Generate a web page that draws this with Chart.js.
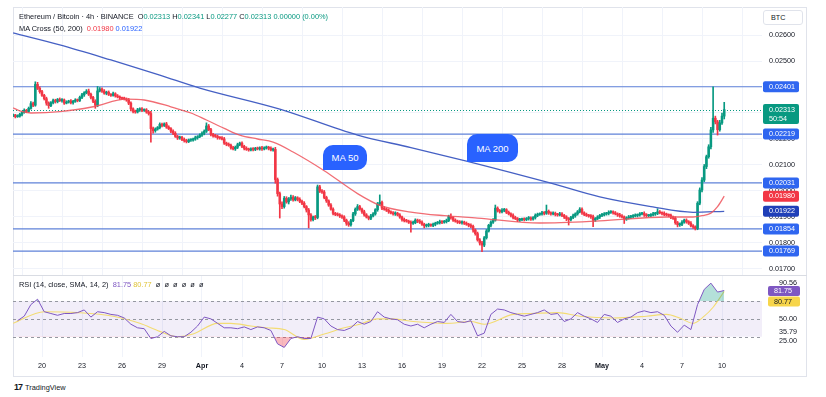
<!DOCTYPE html>
<html>
<head>
<meta charset="utf-8">
<script src="https://cdn.jsdelivr.net/npm/chart.js@4.4.1/dist/chart.umd.min.js"></script>
<style>
  body { margin: 0; background: #fff; font-family: "Liberation Sans", Arial, sans-serif; }
  #wrap { position: relative; width: 826px; height: 397px; overflow: hidden; background: #fff; }
  #frame { position: absolute; left: 13px; top: 7px; width: 794px; height: 370px; border: 1px solid #e0e3eb; box-sizing: border-box; }
  #main { position: absolute; left: 0; top: 7px; }
  #rsi { position: absolute; left: 0; top: 276px; }
  #sep { position: absolute; left: 13px; top: 275px; width: 794px; height: 1px; background: #d9dce3; }
  .hdr { position: absolute; left: 19px; font-size: 7.4px; line-height: 10px; color: #131722; white-space: nowrap; }
  .g { color: #089981; } .r { color: #f23645; } .b { color: #2962ff; }
  .p { color: #7e57c2; } .y { color: #e0c43a; } .n { color: #787b86; }
  .bub { position: absolute; background: #2962ff; color: #fff; font-size: 9.5px; display: flex; align-items: center; justify-content: center; border-radius: 10px 10px 10px 0; }
  #btc { position: absolute; left: 763px; top: 10px; width: 40px; height: 15px; border: 1px solid #e0e3eb; border-radius: 3px; box-sizing: border-box; font-size: 7.2px; line-height: 13px; padding-left: 7px; color: #131722; background: #fff; }
  #logo { position: absolute; left: 14px; top: 382px; font-size: 7.4px; color: #131722; white-space: nowrap; }
  #logo b { font-size: 9px; letter-spacing: -1px; margin-right: 3px; }
</style>
</head>
<body>
<div id="wrap">
  <div id="frame"></div>
  <canvas id="main" width="806" height="268"></canvas>
  <canvas id="rsi" width="806" height="100"></canvas>
  <div id="sep"></div>
  <div class="hdr" style="top:12px">Ethereum / Bitcoin · 4h · BINANCE&nbsp; O<span class="g">0.02313</span> H<span class="g">0.02341</span> L<span class="g">0.02277</span> C<span class="g">0.02313</span> <span class="g">0.00000 (0.00%)</span></div>
  <div class="hdr" style="top:24px">MA Cross (50, 200)&nbsp; <span class="r" id="ma50txt"></span> <span class="b" id="ma200txt"></span></div>
  <div class="hdr" style="top:280px">RSI (14, close, SMA, 14, 2)&nbsp; <span class="p" id="rsitxt"></span> <span class="y" id="rsimatxt"></span>&nbsp; ø&nbsp; ø&nbsp; ø&nbsp; ø&nbsp; ø&nbsp; ø</div>
  <div class="bub" style="left:323px;top:145px;width:44px;height:25px">MA 50</div>
  <div class="bub" style="left:467px;top:134px;width:51px;height:28px">MA 200</div>
  <div id="btc">BTC</div>
  <div id="logo"><b>17</b>TradingView</div>
</div>
<script>
// Preise in 1e-5 BTC, 4h-Kerzen ab 17. März 20:00
const firstOpen = 2290;
const closes = [
  2292, 2286, 2288, 2295, 2302, 2310, 2306, 2318, 2336, 2330,
  2410, 2395, 2382, 2368, 2355, 2338, 2328, 2340, 2348, 2344,
  2352, 2348, 2350, 2338, 2342, 2346, 2340, 2345, 2350, 2348,
  2360, 2370, 2378, 2384, 2372, 2360, 2345, 2330, 2385, 2392,
  2384, 2376, 2380, 2372, 2368, 2374, 2366, 2362, 2358, 2356,
  2354, 2350, 2338, 2316, 2306, 2304, 2312, 2316, 2310, 2312,
  2304, 2298, 2240, 2232, 2238, 2244, 2256, 2252, 2258, 2246,
  2240, 2230, 2222, 2210, 2204, 2206, 2198, 2194, 2190, 2196,
  2196, 2200, 2205, 2209, 2215, 2222, 2230, 2250, 2236, 2218,
  2212, 2210, 2205, 2204, 2200, 2184, 2180, 2176, 2166, 2162,
  2168, 2178, 2184, 2172, 2164, 2160, 2158, 2162, 2160, 2164,
  2162, 2166, 2162, 2166, 2168, 2164, 2158, 2160, 2044, 1990,
  1950, 1940, 1972, 1958, 1970, 1976, 1966, 1974, 1968, 1960,
  1953, 1940, 1927, 1908, 1890, 1900, 1898, 2016, 2000, 1996,
  1975, 1962, 1946, 1930, 1914, 1910, 1908, 1904, 1900, 1888,
  1876, 1870, 1886, 1912, 1930, 1940, 1930, 1920, 1908, 1900,
  1895, 1904, 1912, 1928, 1950, 1956, 1934, 1930, 1926, 1920,
  1916, 1912, 1914, 1908, 1900, 1890, 1886, 1884, 1880, 1876,
  1878, 1888, 1884, 1880, 1872, 1866, 1868, 1870, 1868, 1872,
  1876, 1878, 1882, 1880, 1882, 1886, 1902, 1898, 1888, 1884,
  1880, 1878, 1880, 1876, 1872, 1868, 1864, 1850, 1836, 1812,
  1800, 1792, 1820, 1846, 1868, 1880, 1888, 1934, 1925, 1920,
  1926, 1928, 1918, 1912, 1906, 1898, 1894, 1888, 1890, 1892,
  1890, 1894, 1896, 1892, 1898, 1906, 1910, 1912, 1916, 1914,
  1922, 1916, 1912, 1914, 1910, 1908, 1912, 1906, 1900, 1894,
  1890, 1898, 1905, 1912, 1920, 1930, 1916, 1910, 1906, 1904,
  1901, 1888, 1894, 1900, 1906, 1908, 1912, 1914, 1918, 1920,
  1916, 1912, 1908, 1904, 1900, 1892, 1896, 1900, 1902, 1904,
  1906, 1908, 1912, 1914, 1908, 1905, 1906, 1908, 1912, 1914,
  1920, 1916, 1914, 1910, 1908, 1906, 1900, 1895, 1878, 1870,
  1872, 1880, 1888, 1882, 1876, 1866, 1862, 1856, 1953, 2004,
  2042, 2094, 2132, 2170, 2235, 2280, 2266, 2236, 2262, 2288, 2313
];
// Dochte über / unter dem Kerzenkörper
const wickUp = [
  4,3,5,4,3,6,4,5,8,6, 10,8,6,5,4,6,5,4,6,5, 4,6,5,4,5,3,6,4,5,4, 5,6,4,6,8,5,4,6,17,6,
  5,6,4,5,3,6,4,5,4,3, 5,4,6,5,4,5,6,4,5,4, 5,4,8,6,5,4,6,5,4,6, 5,4,5,6,4,5,4,6,5,4,
  5,4,6,4,5,6,5,12,6,5, 4,6,5,4,5,6,4,5,4,6, 5,6,4,5,4,6,5,4,5,4, 5,4,6,4,5,4,6,5,8,6,
  6,8,7,6,5,8,6,5,4,6, 5,6,4,6,5,4,6,7,6,5, 6,5,4,6,5,4,6,5,4,5, 4,6,5,6,5,8,5,4,6,5,
  4,6,5,4,6,29,5,6,4,5, 4,5,6,4,5,4,6,5,4,5, 6,5,4,6,5,4,5,6,4,5, 4,5,6,4,5,6,5,10,4,5,
  4,6,5,4,5,4,6,5,4,6, 5,6,5,6,4,5,6,12,5,4, 6,5,4,5,4,6,5,4,5,4, 5,4,6,5,4,6,5,4,6,5,
  24,5,4,6,5,4,6,5,4,5, 4,5,6,4,5,6,5,4,5,4, 5,6,4,5,4,6,5,4,6,5, 4,5,4,6,5,4,5,6,4,5,
  6,4,5,4,6,5,4,5,6,4, 12,5,4,6,5,4,5,4,6,5, 5,6,4,5,4,6,5,4,6,8, 10,8,6,8,10,121,8,6,10,12,28
];
const wickDown = [
  4,5,3,4,6,3,5,4,3,6, 4,5,6,4,5,8,10,4,5,6, 5,4,6,5,3,4,5,6,4,5, 4,5,6,4,5,6,5,12,6,4,
  5,4,6,5,4,3,5,4,6,5, 4,5,6,8,6,5,4,6,5,4, 5,6,52,10,6,4,5,6,4,5, 4,6,5,4,6,5,4,6,5,4,
  5,4,5,6,4,5,6,5,4,6, 5,4,6,5,4,5,6,4,5,4, 6,5,4,5,6,4,5,4,6,5, 4,5,6,4,5,6,4,5,14,10,
  54,8,6,5,8,6,5,4,6,5, 6,5,8,50,6,5,8,5,6,5, 5,6,5,4,6,5,4,6,5,6, 8,6,5,4,6,5,4,6,5,4,
  6,5,4,5,6,5,6,4,5,6, 4,5,6,4,5,6,5,4,5,34, 5,4,6,5,4,8,5,6,4,5, 6,4,5,6,4,5,4,6,5,4,
  5,4,6,5,4,6,5,8,6,5, 8,25,6,5,4,6,5,4,6,5, 4,6,5,4,6,5,4,6,5,4, 5,4,6,5,4,6,5,4,5,6,
  4,6,5,4,6,5,4,5,6,8, 21,5,4,6,5,4,6,5,4,5, 6,25,5,4,6,5,4,5,6,4, 5,4,6,5,4,17,5,4,6,5,
  4,6,5,4,6,5,4,5,4,6, 5,4,6,5,4,5,6,4,6,8, 6,5,4,6,5,4,6,6,5,6, 8,6,8,6,8,10,8,21,6,6,11
];

// Gleitende Durchschnitte (Kerzenindex, Wert)
const ma50At = [0, 3, 8, 21, 36, 51, 59, 71, 80, 87, 95, 102, 110, 117, 126, 140, 155, 165, 179, 194, 209, 237, 264, 294, 306, 310, 314, 317, 320];
const ma50 = [2320, 2308, 2300, 2305, 2324, 2353, 2350, 2324, 2300, 2273, 2241, 2215, 2200, 2188, 2150, 2078, 1990, 1945, 1919, 1905, 1896, 1877, 1885, 1900, 1900, 1905, 1915, 1940, 1980];
const ma200At = [0, 21, 44, 66, 84, 120, 155, 179, 204, 242, 264, 287, 306, 320];
const ma200 = [2608, 2562, 2504, 2446, 2396, 2315, 2215, 2167, 2115, 2030, 1977, 1940, 1918, 1922];

// Waagerechte Marken
const levels = [2401, 2219, 2031, 1854, 1769];
const priceTicks = [1700, 1800, 1900, 2000, 2100, 2200, 2300, 2400, 2500, 2600];

// RSI jede dritte Kerze ab Index 2
const rsi = [
  48,53,66,72,58,56,54,56,56,57, 60,52,58,57,55,54,51,44,40,39,
  28,30,36,31,30,30,35,42,52,50, 45,40,40,39,41,38,41,40,37,22,
  18,28,30,28,28,52,50,42,38,37, 40,47,44,47,58,52,50,49,44,42,
  44,40,44,47,46,55,47,46,48,31, 34,55,61,60,57,55,53,55,57,60,
  55,56,47,50,57,53,50,46,55,53, 46,50,52,57,59,57,58,54,42,35,
  43,38,66,83,90,80,81.75
];
const rsiMaAt = [0, 14, 29, 45, 57, 66, 74, 81, 92, 98, 107, 114, 122, 131, 140, 149, 156, 164, 170, 180, 195, 206, 212, 225, 233, 245, 255, 270, 285, 294, 300, 306, 311, 315, 320];
const rsiMa = [45, 58, 57, 53, 45, 36, 30, 33, 45, 45, 42, 40, 38, 27, 33, 40, 44, 50, 50, 47, 45, 47, 44, 55, 56, 57, 53, 51, 53, 55, 51, 45, 53, 63, 80.77];
const rsiTicks = [25, 35.79, 50, 90.56];

// Zeitachse (Kerzenindex des Tagesbeginns)
const dayTicks = [13, 31, 49, 67, 85, 103, 121, 139, 157, 175, 193, 211, 229, 247, 265, 283, 301, 319];
const dayLabels = ['20', '23', '26', '29', 'Apr', '4', '7', '10', '13', '16', '19', '22', '25', '28', 'May', '4', '7', '10'];

const UP = '#089981', DOWN = '#f23645';
const FONT = '"Liberation Sans", Arial, sans-serif';
const fmt = v => (v / 100000).toFixed(5);

const opens = closes.map((c, i) => i === 0 ? firstOpen : closes[i - 1]);
const candleColors = closes.map((c, i) => c >= opens[i] ? UP : DOWN);
const bodies = closes.map((c, i) => ({ x: i, y: [opens[i], c] }));
const wicks = closes.map((c, i) => ({ x: i, y: [Math.min(opens[i], c) - wickDown[i], Math.max(opens[i], c) + wickUp[i]] }));

const lastClose = closes[closes.length - 1];
const lastMa50 = ma50[ma50.length - 1];
const lastMa200 = ma200[ma200.length - 1];
const lastRsi = rsi[rsi.length - 1];
const lastRsiMa = rsiMa[rsiMa.length - 1];

document.getElementById('ma50txt').textContent = fmt(lastMa50);
document.getElementById('ma200txt').textContent = fmt(lastMa200);
document.getElementById('rsitxt').textContent = lastRsi.toFixed(2);
document.getElementById('rsimatxt').textContent = lastRsiMa.toFixed(2);

function tag(ctx, x, top, w, h, bg, lines, fg) {
  ctx.save();
  ctx.fillStyle = bg;
  ctx.beginPath();
  ctx.roundRect(x, top, w, h, 2);
  ctx.fill();
  ctx.fillStyle = fg;
  ctx.font = '7.2px ' + FONT;
  ctx.textBaseline = 'middle';
  ctx.textAlign = 'left';
  lines.forEach((t, k) => ctx.fillText(t, x + 6, top + 5.5 + k * 9));
  ctx.restore();
}

const xScaleBase = {
  type: 'linear',
  min: -0.05,
  max: 337,
  offset: false,
  border: { display: false },
  afterBuildTicks: s => { s.ticks = dayTicks.map(v => ({ value: v })); },
  grid: { color: '#f0f3fa', drawTicks: false }
};

// Hauptdiagramm: Kerzen + MAs
const mainPlugin = {
  id: 'mainPlugin',
  beforeDatasetsDraw(chart) {
    const { ctx, chartArea: a, scales: { y } } = chart;
    ctx.save();
    ctx.strokeStyle = '#5f82d8';
    ctx.lineWidth = 1.2;
    levels.forEach(v => {
      const py = y.getPixelForValue(v);
      ctx.beginPath(); ctx.moveTo(a.left, py); ctx.lineTo(a.right, py); ctx.stroke();
    });
    ctx.strokeStyle = UP;
    ctx.lineWidth = 1;
    ctx.setLineDash([1, 2]);
    const py = Math.round(y.getPixelForValue(lastClose)) + 0.5;
    ctx.beginPath(); ctx.moveTo(a.left, py); ctx.lineTo(a.right, py); ctx.stroke();
    ctx.restore();
  },
  afterDraw(chart) {
    const { ctx, chartArea: a, scales: { y } } = chart;
    const x = a.right + 1;
    levels.forEach(v => tag(ctx, x, y.getPixelForValue(v) - 5.5, 36, 11, '#2f66f0', [fmt(v)], '#fff'));
    tag(ctx, x, y.getPixelForValue(lastMa50) - 5.5, 36, 11, DOWN, [fmt(lastMa50)], '#fff');
    tag(ctx, x, y.getPixelForValue(lastMa200) - 5.5, 36, 11, '#1f3fb8', [fmt(lastMa200)], '#fff');
    tag(ctx, x, y.getPixelForValue(lastClose) - 5.5, 36, 20, UP, [fmt(lastClose), '50:54'], '#fff');
  }
};

new Chart(document.getElementById('main'), {
  type: 'bar',
  data: {
    datasets: [
      { type: 'line', data: ma50At.map((x, i) => ({ x, y: ma50[i] })), borderColor: 'rgba(239,83,92,0.85)', borderWidth: 1.3, pointRadius: 0, cubicInterpolationMode: 'monotone', order: 0 },
      { type: 'line', data: ma200At.map((x, i) => ({ x, y: ma200[i] })), borderColor: '#4560c4', borderWidth: 1.3, pointRadius: 0, cubicInterpolationMode: 'monotone', order: 0 },
      { data: bodies, backgroundColor: candleColors, barThickness: 1.9, minBarLength: 1, grouped: false, order: 1 },
      { data: wicks, backgroundColor: candleColors, barThickness: 1, grouped: false, order: 2 }
    ]
  },
  options: {
    responsive: false,
    animation: false,
    events: [],
    layout: { padding: { left: 13, right: 0, top: 0, bottom: 0 } },
    plugins: { legend: { display: false }, tooltip: { enabled: false } },
    scales: {
      x: {
        ...xScaleBase,
        ticks: { display: false },
        afterFit: s => { s.height = 0; s.paddingLeft = 0; s.paddingRight = 0; }
      },
      y: {
        position: 'right',
        min: 1676.9,
        max: 2707.7,
        border: { display: false },
        grid: { color: '#f0f3fa', drawTicks: false },
        afterBuildTicks: s => { s.ticks = priceTicks.map(v => ({ value: v })); },
        afterFit: s => { s.width = 44; s.paddingTop = 0; s.paddingBottom = 0; },
        ticks: { color: '#131722', padding: 7, font: { family: FONT, size: 7.2 }, callback: v => fmt(v) }
      }
    }
  },
  plugins: [mainPlugin]
});

// RSI-Bereich
const rsiPlugin = {
  id: 'rsiPlugin',
  beforeDatasetsDraw(chart) {
    const { ctx, chartArea: a, scales: { y } } = chart;
    ctx.save();
    ctx.fillStyle = 'rgba(126,87,194,0.1)';
    const top = y.getPixelForValue(70), bot = y.getPixelForValue(30);
    ctx.fillRect(a.left, top, a.right - a.left, bot - top);
    ctx.strokeStyle = '#9598a1';
    ctx.lineWidth = 1;
    ctx.setLineDash([3, 3]);
    [70, 50, 30].forEach(v => {
      const py = Math.round(y.getPixelForValue(v)) + 0.5;
      ctx.beginPath(); ctx.moveTo(a.left, py); ctx.lineTo(a.right, py); ctx.stroke();
    });
    ctx.restore();
  },
  afterDraw(chart) {
    const { ctx, chartArea: a, scales: { y } } = chart;
    const py = y.getPixelForValue(lastRsi);
    tag(ctx, a.right + 6, py - 4.5, 32, 10, '#7e57c2', [lastRsi.toFixed(2)], '#fff');
    tag(ctx, a.right + 6, py + 6, 32, 10, '#f7d54a', [lastRsiMa.toFixed(2)], '#131722');
  }
};

const rsiPts = rsi.map((v, k) => ({ x: 2 + 3 * k, y: v }));

new Chart(document.getElementById('rsi'), {
  type: 'line',
  data: {
    datasets: [
      { data: rsiPts, borderColor: '#7e57c2', borderWidth: 1, pointRadius: 0, fill: { target: { value: 70 }, above: 'rgba(8,153,129,0.3)', below: 'rgba(0,0,0,0)' } },
      { data: rsiPts, borderColor: 'rgba(0,0,0,0)', borderWidth: 0, pointRadius: 0, fill: { target: { value: 30 }, above: 'rgba(0,0,0,0)', below: 'rgba(242,54,69,0.35)' } },
      { data: rsiMaAt.map((x, i) => ({ x, y: rsiMa[i] })), borderColor: '#f3dc73', borderWidth: 1.1, pointRadius: 0, cubicInterpolationMode: 'monotone', fill: false }
    ]
  },
  options: {
    responsive: false,
    animation: false,
    events: [],
    layout: { padding: { left: 13, right: 0, top: 0, bottom: 0 } },
    plugins: { legend: { display: false }, tooltip: { enabled: false } },
    scales: {
      x: {
        ...xScaleBase,
        afterFit: s => { s.height = 19; s.paddingLeft = 0; s.paddingRight = 0; },
        ticks: {
          autoSkip: false, maxRotation: 0, padding: 5, color: '#131722',
          font: ctx => ({ family: FONT, size: 7.2, weight: /[A-Za-z]/.test(dayLabels[ctx.index] || '') ? 'bold' : 'normal' }),
          callback: (v, i) => dayLabels[i]
        }
      },
      y: {
        position: 'right',
        min: 7.3,
        max: 98,
        border: { display: false },
        grid: { display: false },
        afterBuildTicks: s => { s.ticks = rsiTicks.map(v => ({ value: v })); },
        afterFit: s => { s.width = 44; s.paddingTop = 0; s.paddingBottom = 0; },
        ticks: { color: '#131722', padding: 9, font: { family: FONT, size: 7.2 }, callback: v => v.toFixed(2) }
      }
    }
  },
  plugins: [rsiPlugin]
});
</script>
</body>
</html>
